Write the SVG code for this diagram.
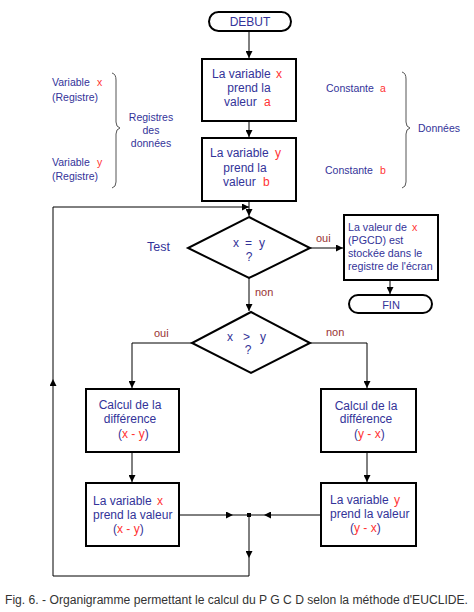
<svg xmlns="http://www.w3.org/2000/svg" width="474" height="612" viewBox="0 0 474 612">
<style>
text{font-family:"Liberation Sans",Arial,sans-serif;fill:#333399}
.b{font-size:12px}
.s{font-size:10.5px}
.o{font-size:10.7px}
.r{fill:#ff3333}
.d{fill:#993333;font-size:11px}
.box{fill:#fff;stroke:#000;stroke-width:2}
.ln{fill:none;stroke:#000;stroke-width:1}
.br{fill:none;stroke:#555;stroke-width:1}
.cap{fill:#333;font-size:12px}
</style>
<defs>
<marker id="ah" markerUnits="userSpaceOnUse" markerWidth="7" markerHeight="7" refX="7" refY="3.5" orient="auto">
<path d="M0,0 L7,3.5 L0,7 z" fill="#000"/>
</marker>
</defs>
<rect width="474" height="612" fill="#fff"/>

<g id="connectors">
<path class="ln" d="M249,31 V58" marker-end="url(#ah)"/>
<path class="ln" d="M249,122 V137" marker-end="url(#ah)"/>
<path class="ln" d="M249,202 V216" marker-end="url(#ah)"/>
<path class="ln" d="M310,248 H343" marker-end="url(#ah)"/>
<path class="ln" d="M390,281 V294" marker-end="url(#ah)"/>
<path class="ln" d="M249,278 V311" marker-end="url(#ah)"/>
<path class="ln" d="M192,343 H132 V388" marker-end="url(#ah)"/>
<path class="ln" d="M310,343 H367 V388" marker-end="url(#ah)"/>
<path class="ln" d="M132,453 V482" marker-end="url(#ah)"/>
<path class="ln" d="M367,453 V482" marker-end="url(#ah)"/>
<path class="ln" d="M180,515 H233" marker-end="url(#ah)"/>
<path class="ln" d="M233,515 H249"/>
<path class="ln" d="M320,515 H264" marker-end="url(#ah)"/>
<path class="ln" d="M264,515 H249"/>
<rect x="247" y="513" width="4" height="4" fill="#000"/>
<path class="ln" d="M249,515 V558" marker-end="url(#ah)"/>
<path class="ln" d="M249,558 V576 H53 V379" marker-end="url(#ah)"/>
<path class="ln" d="M53,379 V207 H249" marker-end="url(#ah)"/>
<path class="br" d="M112,73 Q116,74 116,80 V122 Q116,127 120,128 Q116,129 116,134 V182 Q116,187 112,188"/>
<path class="br" d="M402,72 Q406,73 406,79 V122 Q406,127 410,128 Q406,129 406,134 V182 Q406,187 402,188"/>
</g>

<g id="debut">
<rect class="box" x="209" y="12" width="82" height="19" rx="9.5"/>
<text class="b" x="250" y="26" text-anchor="middle">DEBUT</text>
</g>

<g id="box-x-a">
<rect class="box" x="202" y="59" width="94" height="62"/>
<text class="b" x="212" y="78">La variable <tspan class="r" x="276">x</tspan></text>
<text class="b" x="249" y="92" text-anchor="middle">prend la</text>
<text class="b" x="224" y="106">valeur <tspan class="r" x="264">a</tspan></text>
</g>

<g id="box-y-b">
<rect class="box" x="202" y="138" width="94" height="63"/>
<text class="b" x="210" y="157">La variable <tspan class="r" x="275">y</tspan></text>
<text class="b" x="245" y="172" text-anchor="middle">prend la</text>
<text class="b" x="223" y="186">valeur <tspan class="r" x="263">b</tspan></text>
</g>

<g id="labels-left">
<text class="s" x="52" y="86">Variable <tspan class="r" x="97">x</tspan></text>
<text class="s" x="52" y="101">(Registre)</text>
<text class="s" x="52" y="166">Variable <tspan class="r" x="97">y</tspan></text>
<text class="s" x="52" y="180">(Registre)</text>
<text class="s" x="151" y="121" text-anchor="middle">Registres</text>
<text class="s" x="151" y="134" text-anchor="middle">des</text>
<text class="s" x="151" y="147" text-anchor="middle">données</text>
</g>

<g id="labels-right">
<text class="s" x="326" y="92">Constante <tspan class="r" x="380">a</tspan></text>
<text class="s" x="325" y="174">Constante <tspan class="r" x="380">b</tspan></text>
<text class="s" x="418" y="132">Données</text>
</g>

<g id="test1">
<polygon class="box" points="249,217 310,248 249,278 188,248"/>
<text class="b" x="147" y="251" style="font-size:12.5px">Test</text>
<text class="b" x="233" y="247">x</text>
<text class="b" x="245" y="247">=</text>
<text class="b" x="259" y="247">y</text>
<text class="b" x="249" y="261" text-anchor="middle">?</text>
<text class="d" x="316" y="242">oui</text>
<text class="d" x="255" y="296">non</text>
</g>

<g id="output">
<rect class="box" x="344" y="215" width="94" height="65"/>
<text class="o" x="348" y="231">La valeur de</text>
<text class="o r" x="412" y="231">x</text>
<text class="o" x="348" y="244">(PGCD) est</text>
<text class="o" x="348" y="257">stockée dans le</text>
<text class="o" x="348" y="270">registre de l'écran</text>
</g>

<g id="fin">
<rect class="box" x="349" y="295" width="83" height="18" rx="9"/>
<text class="s" x="391" y="309" text-anchor="middle" style="font-size:11px">FIN</text>
</g>

<g id="test2">
<polygon class="box" points="251,312 310,343 251,373 192,343"/>
<text class="b" x="227" y="341">x</text>
<text class="b" x="243" y="341">&gt;</text>
<text class="b" x="260" y="341">y</text>
<text class="b" x="248" y="354" text-anchor="middle">?</text>
<text class="d" x="154" y="337">oui</text>
<text class="d" x="326" y="336">non</text>
</g>

<g id="calc-xy">
<rect class="box" x="86" y="389" width="93" height="63"/>
<text class="b" x="130" y="409" text-anchor="middle">Calcul de la</text>
<text class="b" x="130" y="423" text-anchor="middle">différence</text>
<text class="b" x="118" y="438">(<tspan class="r">x - y</tspan>)</text>
</g>

<g id="calc-yx">
<rect class="box" x="321" y="389" width="95" height="63"/>
<text class="b" x="366" y="410" text-anchor="middle">Calcul de la</text>
<text class="b" x="366" y="423" text-anchor="middle">différence</text>
<text class="b" x="354" y="438">(<tspan class="r">y - x</tspan>)</text>
</g>

<g id="assign-x">
<rect class="box" x="86" y="483" width="93" height="63"/>
<text class="b" x="93" y="505">La variable <tspan class="r" x="157">x</tspan></text>
<text class="b" x="93" y="519">prend la valeur</text>
<text class="b" x="113" y="533">(<tspan class="r">x - y</tspan>)</text>
</g>

<g id="assign-y">
<rect class="box" x="321" y="483" width="95" height="63"/>
<text class="b" x="330" y="504">La variable <tspan class="r" x="394">y</tspan></text>
<text class="b" x="330" y="518">prend la valeur</text>
<text class="b" x="350" y="532">(<tspan class="r">y - x</tspan>)</text>
</g>

<text class="cap" x="5" y="604" textLength="463" lengthAdjust="spacingAndGlyphs">Fig. 6. - Organigramme permettant le calcul du P G C D selon la méthode d'EUCLIDE.</text>
</svg>
